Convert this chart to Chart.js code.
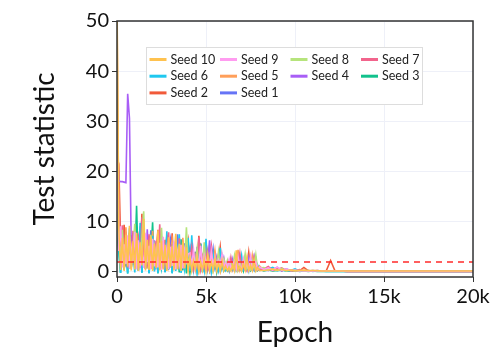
<!DOCTYPE html>
<html>
<head>
<meta charset="utf-8">
<script src="https://cdn.jsdelivr.net/npm/chart.js@4.4.0/dist/chart.umd.min.js"></script>
<style>
  html, body { margin: 0; padding: 0; background: #fff; }
</style>
</head>
<body>
<canvas id="statChart" width="498" height="352"></canvas>
<script>
// epochs at which the test statistic was logged
const epochs = [0,100,200,300,400,500,600,700,800,900,
  1000,1100,1200,1300,1400,1500,1600,1700,1800,1900,
  2000,2100,2200,2300,2400,2500,2600,2700,2800,2900,
  3000,3100,3200,3300,3400,3500,3600,3700,3800,3900,
  4000,4100,4200,4300,4400,4500,4600,4700,4800,4900,
  5000,5100,5200,5300,5400,5500,5600,5700,5800,5900,
  6000,6100,6200,6300,6400,6500,6600,6700,6800,6900,
  7000,7100,7200,7300,7400,7500,7600,7700,7800,7900,
  8000,8250,8500,8750,9000,9250,9500,9750,10000,10250,10500,10750,
  11000,11250,11500,11750,12000,12250,12500,
  13000,14000,15000,16000,17000,18000,19000,20000];

const seed10 = [55,
  8.5,0.4,6.8,0.2,7.4,1.1,9.2,0.3,6.1,0.5, 7.8,0.2,5.9,1.3,10.6,0.3,6.4,0.4,7.1,0.2,
  5.6,0.8,8.3,0.3,6.2,0.5,5.4,0.2,6.9,1.0, 5.1,0.3,7.6,0.6,5.3,0.2,6.0,0.7,4.9,0.3,
  2.8,0.3,2.2,0.5,3.1,0.2,1.9,0.4,2.6,0.2, 3.4,0.4,2.0,0.3,2.7,0.5,1.8,0.2,2.3,0.3,
  1.2,0.3,0.9,0.2,1.5,0.3,4.3,0.3,1.1,0.2, 1.8,0.4,2.9,0.3,1.3,0.3,2.4,0.2,0.9,0.3,
  0.3,0.4,0.6,0.3,0.5,0.3,0.4,0.3,0.3,0.4,0.3,0.3,0.3,0.2,0.2,0.2,0.2,0.2,
  0.2,0.2,0.2,0.2,0.2,0.2,0.2,0.2];
const seed9 = [30,
  4.2,9.1,0.9,5.5,1.6,7.3,0.7,4.8,2.2,8.0, 0.5,6.3,1.4,4.1,0.8,7.7,2.0,5.2,0.6,6.6,
  1.1,4.4,0.9,5.8,0.4,7.0,1.9,4.6,0.6,5.0, 1.2,6.1,0.5,3.9,1.5,5.4,0.7,4.3,2.1,3.6,
  3.8,1.2,4.4,0.6,2.9,1.5,5.2,0.8,3.3,1.9, 2.6,0.7,4.1,1.3,3.0,0.9,2.4,1.6,3.5,1.0,
  1.9,0.8,2.5,0.6,1.4,2.2,0.7,3.0,1.1,0.5, 2.6,0.9,1.6,0.6,3.1,0.8,1.3,2.0,0.6,1.0,
  0.5,0.8,0.4,1.0,0.3,0.6,0.3,0.4,0.2,0.3,0.2,0.2,0.3,0.2,0.2,0.2,0.2,0.2,
  0.1,0.1,0.1,0.1,0.1,0.1,0.1,0.1];
const seed8 = [12,
  6.0,3.1,8.4,1.0,5.2,2.6,7.1,0.9,4.5,9.6, 1.3,5.7,2.0,6.9,12.1,1.1,4.8,0.7,7.4,2.5,
  5.0,1.2,6.3,0.6,8.8,1.8,4.2,0.9,6.0,2.4, 4.7,1.0,7.2,0.5,5.6,1.6,4.0,2.2,8.9,1.4,
  3.0,0.9,2.4,1.7,4.6,0.6,2.1,1.0,5.9,0.8, 2.8,1.4,3.6,0.5,2.2,1.1,4.0,0.7,1.8,2.7,
  1.0,2.3,0.5,1.7,0.8,3.2,0.6,1.2,2.0,0.4, 1.5,3.6,0.7,1.1,0.5,2.2,0.9,3.4,0.6,0.8,
  0.9,0.4,0.6,0.3,0.7,0.2,0.4,0.2,0.3,0.2,0.2,0.3,0.2,0.2,0.2,0.2,0.2,0.2,
  0.1,0.1,0.1,0.1,0.1,0.1,0.1,0.1];
const seed7 = [28,
  14.5,4.0,9.3,1.8,6.5,0.9,5.1,2.7,8.2,1.0, 4.6,6.8,0.8,10.9,2.2,5.3,1.1,7.5,0.6,4.9,
  2.9,6.2,1.0,9.5,0.7,5.8,1.6,4.0,7.9,0.9, 5.5,1.3,4.4,0.6,6.7,2.0,4.1,0.8,5.9,1.2,
  2.5,4.9,0.8,3.2,1.4,6.9,0.7,2.8,1.1,3.9, 0.6,2.3,5.1,0.9,2.0,1.3,3.4,0.5,2.7,0.8,
  0.9,1.6,0.4,2.8,0.7,1.2,0.5,1.9,3.8,0.6, 1.0,0.4,2.1,0.8,1.4,0.5,2.9,0.7,1.1,0.5,
  0.6,1.1,0.3,0.5,0.8,0.3,0.4,0.2,0.5,0.2,0.3,0.2,0.2,0.2,0.2,0.2,0.2,0.2,
  0.1,0.1,0.1,0.1,0.1,0.1,0.1,0.1];
const seed6 = [9,
  5.0,-0.2,7.6,0.4,4.1,-0.3,8.7,1.2,3.5,-0.1, 6.4,0.3,9.8,-0.2,4.9,0.8,5.7,-0.3,3.8,7.2,
  0.1,4.5,-0.2,6.0,1.0,3.3,-0.1,8.1,0.5,4.2, -0.3,5.9,0.2,3.7,7.5,-0.2,4.8,0.6,3.1,6.8,
  0.2,7.3,0.5,2.6,-0.1,4.1,1.0,2.2,0.3,6.6, 0.7,2.9,0.1,3.6,1.2,2.0,0.4,4.8,0.6,1.7,
  0.4,1.3,0.2,2.4,0.5,0.9,1.8,0.3,1.1,3.3, 0.4,0.8,1.5,0.2,2.6,0.5,0.9,0.3,1.4,0.4,
  0.3,0.6,0.9,0.2,0.4,0.2,0.3,0.6,0.2,0.2,0.3,0.1,0.2,0.2,0.1,0.1,0.1,0.1,
  0.1,0.1,0.1,0.1,0.1,0.1,0.1,0.1];
const seed5 = [52,
  11.2,2.4,6.0,0.8,8.9,1.5,4.7,0.6,7.0,2.3, 5.4,0.9,9.1,1.6,4.3,6.5,0.7,5.0,1.9,8.2,
  0.5,4.6,2.6,6.9,1.0,5.2,0.6,7.4,1.5,4.0, 6.2,0.8,5.6,1.2,4.4,0.5,6.8,1.9,3.9,0.7,
  2.1,0.6,3.7,1.2,2.4,0.5,4.5,1.5,1.9,0.8, 3.2,0.6,2.5,1.7,4.2,0.4,2.0,1.0,3.0,0.7,
  1.5,0.5,1.0,2.0,0.4,1.3,0.7,4.4,0.5,1.7, 0.9,2.5,0.4,1.2,0.6,3.3,0.8,1.0,0.4,1.2,
  0.4,0.7,0.3,0.6,0.3,0.5,0.2,0.3,0.2,0.3,0.2,0.2,0.2,0.2,0.2,0.2,0.2,0.2,
  0.1,0.1,0.1,0.1,0.1,0.1,0.1,0.1];
const seed4 = [26,
  18.2,18.0,18.0,17.9,17.8,35.5,30.6,5.2,1.4,6.9, 0.8,4.4,7.8,1.2,5.0,0.6,8.5,2.1,4.0,0.9,
  6.3,1.5,3.8,7.0,0.7,4.9,1.8,5.7,0.5,3.6, 6.4,1.1,4.5,0.8,5.3,2.0,3.9,0.6,6.0,1.3,
  2.3,0.7,3.1,1.6,5.0,0.5,2.4,1.1,3.7,0.8, 2.0,6.3,0.6,2.6,1.4,3.0,0.5,2.1,1.2,2.8,
  0.6,1.9,0.4,1.1,2.6,0.5,1.4,0.8,0.4,2.0, 0.7,1.2,0.3,2.7,0.6,1.0,0.4,1.8,0.5,0.7,
  0.5,0.3,0.8,0.4,0.3,0.5,0.2,0.3,0.2,0.2,0.2,0.3,0.2,0.2,0.2,0.2,0.2,0.2,
  0.1,0.1,0.1,0.1,0.1,0.1,0.1,0.1];
const seed3 = [8,
  3.9,-0.2,6.1,0.5,4.7,-0.3,7.8,0.9,5.0,1.6, 13.2,0.2,4.3,-0.1,8.6,0.7,5.5,-0.2,3.4,9.9,
  0.4,4.8,-0.3,6.7,1.1,3.6,0.0,7.3,0.6,4.1, -0.2,5.3,1.4,3.2,-0.1,6.5,0.3,4.6,-0.3,3.8,
  -0.1,2.4,0.6,4.0,0.2,1.9,5.6,-0.1,2.7,0.8, 1.5,0.3,3.8,0.5,2.1,-0.1,1.6,0.4,2.9,0.2,
  0.7,0.2,1.6,0.4,0.9,2.3,0.3,1.0,0.5,1.4, 0.2,2.0,0.6,0.8,0.3,1.2,0.4,2.5,0.3,0.6,
  0.2,0.4,0.2,0.3,0.5,0.2,0.2,0.3,0.1,0.2,0.1,0.2,0.1,0.1,0.1,0.1,0.1,0.1,
  0.1,0.1,0.1,0.1,0.1,0.1,0.1,0.1];
const seed2 = [23,
  21.5,6.2,2.0,9.4,1.1,5.8,0.7,7.3,2.6,4.4, 0.8,6.0,1.7,11.6,0.9,4.9,2.2,7.1,0.6,5.6,
  1.4,3.9,8.4,0.8,5.2,1.9,6.4,0.5,4.5,1.3, 7.7,0.9,4.0,2.3,5.8,0.7,4.7,1.6,3.5,6.1,
  0.9,3.3,1.5,2.2,0.6,7.2,1.0,3.0,0.7,2.4, 4.3,0.5,1.8,1.1,3.5,0.6,2.3,5.0,0.8,1.6,
  1.1,0.4,2.1,0.7,1.3,0.5,3.0,0.8,1.5,0.4, 2.2,0.6,1.0,3.9,0.5,1.3,0.7,1.6,0.4,0.9,
  0.3,0.5,0.3,0.7,0.3,0.4,0.2,0.3,0.2,0.9,0.2,0.2,0.2,0.2,0.2,2.3,0.2,0.2,
  0.1,0.1,0.1,0.1,0.1,0.1,0.1,0.1];
const seed1 = [10,
  7.2,1.3,5.4,0.6,8.0,2.1,4.2,0.9,6.6,1.5, 9.0,0.4,5.1,2.8,6.9,0.7,4.6,1.2,8.3,0.5,
  5.9,1.7,4.0,0.8,7.1,2.4,5.0,0.6,3.7,6.3, 1.0,4.8,0.5,7.5,1.6,4.3,0.9,5.7,1.1,3.4,
  4.8,0.7,2.0,1.3,3.4,0.6,5.7,0.9,2.5,1.4, 3.1,0.5,2.2,4.6,0.8,1.9,0.6,3.2,1.0,2.4,
  0.8,1.4,0.5,1.0,0.3,1.7,0.6,1.2,2.8,0.4, 0.9,1.5,0.5,1.8,0.4,1.1,3.0,0.5,0.8,0.3,
  0.4,0.3,0.5,0.9,0.2,0.6,0.3,0.2,0.4,0.2,0.2,0.2,0.3,0.2,0.2,0.2,0.2,0.2,
  0.1,0.1,0.1,0.1,0.1,0.1,0.1,0.1];

const seedNames = ['Seed 10','Seed 9','Seed 8','Seed 7','Seed 6','Seed 5','Seed 4','Seed 3','Seed 2','Seed 1'];
const seedValues = [seed10, seed9, seed8, seed7, seed6, seed5, seed4, seed3, seed2, seed1];
const seedColors = ['#ffc24f','#ff9cf0','#b6e47c','#f2648c','#1fc8ef','#ff9f5a','#a85ef6','#12c28c','#f15a3a','#6674f6'];
const threshold = 2;
const yTicks = [0, 10, 20, 30, 40, 50];
const xTicks = [0, 5000, 10000, 15000, 20000];

Chart.defaults.font.family = 'Lato';

// box round the plot area
const frame = {
    id: 'frame',
    afterDraw(chart) {
        const { ctx, chartArea: a } = chart;
        ctx.save();
        ctx.strokeStyle = '#333';
        ctx.lineWidth = 1.5;
        ctx.strokeRect(a.left, a.top, a.right - a.left, a.bottom - a.top);
        ctx.restore();
    }
};

// legend drawn inside the plot, 4 columns
const seedLegend = {
    id: 'seedLegend',
    afterDraw(chart) {
        const { ctx, chartArea: a } = chart;
        const bx = a.left + 29, by = a.top + 26, bw = 276, bh = 57;
        ctx.save();
        ctx.fillStyle = '#fff';
        ctx.fillRect(bx, by, bw, bh);
        ctx.strokeStyle = '#dddddd';
        ctx.lineWidth = 1;
        ctx.strokeRect(bx + 0.5, by + 0.5, bw, bh);
        ctx.font = '12.5px Lato';
        ctx.textBaseline = 'middle';
        seedNames.forEach((name, i) => {
            const lx = bx + 3.5 + (i % 4) * 70.5;
            const ly = by + 12.5 + Math.floor(i / 4) * 16.7;
            ctx.strokeStyle = seedColors[i];
            ctx.lineWidth = 3;
            ctx.beginPath();
            ctx.moveTo(lx, ly);
            ctx.lineTo(lx + 17, ly);
            ctx.stroke();
            ctx.fillStyle = '#222';
            ctx.fillText(name, lx + 21, ly);
        });
        ctx.restore();
    }
};

const datasets = [{
    label: 'threshold',
    data: [{ x: 0, y: threshold }, { x: 20000, y: threshold }],
    borderColor: '#ff2a2a',
    borderWidth: 1.5,
    borderDash: [6, 5],
    pointRadius: 0
}];
seedNames.forEach((name, i) => {
    datasets.push({
        label: name,
        data: epochs.map((e, j) => ({ x: e, y: seedValues[i][j] })),
        borderColor: seedColors[i],
        borderWidth: 1.6,
        pointRadius: 0,
        tension: 0
    });
});

const ctx = document.getElementById('statChart').getContext('2d');
new Chart(ctx, {
    type: 'line',
    data: { datasets: datasets },
    options: {
        responsive: false,
        animation: false,
        devicePixelRatio: 1,
        layout: { padding: { left: 0, right: 25, top: 21, bottom: 0 } },
        plugins: {
            legend: { display: false },
            tooltip: { enabled: false }
        },
        scales: {
            x: {
                type: 'linear',
                min: 0,
                max: 20000,
                afterBuildTicks: s => { s.ticks = xTicks.map(v => ({ value: v })); },
                afterFit: s => { s.height = 75; },
                ticks: {
                    font: { size: 20 },
                    color: '#111',
                    padding: 3,
                    maxRotation: 0,
                    callback: v => v === 0 ? '0' : (v / 1000) + 'k'
                },
                grid: { color: '#eef0f8', tickColor: '#333', tickLength: 5 },
                border: { display: false },
                title: { display: true, text: 'Epoch', font: { size: 28 }, color: '#111', padding: { top: 0, bottom: 2 } }
            },
            y: {
                min: -1,
                max: 50,
                afterBuildTicks: s => { s.ticks = yTicks.map(v => ({ value: v })); },
                afterFit: s => { s.width = 117; },
                ticks: { font: { size: 20 }, color: '#111', padding: 3 },
                grid: { color: '#eef0f8', tickColor: '#333', tickLength: 5 },
                border: { display: false },
                title: { display: true, text: 'Test statistic', font: { size: 28 }, color: '#111', padding: { top: 28, bottom: 0 } }
            }
        }
    },
    plugins: [frame, seedLegend]
});
</script>
</body>
</html>
